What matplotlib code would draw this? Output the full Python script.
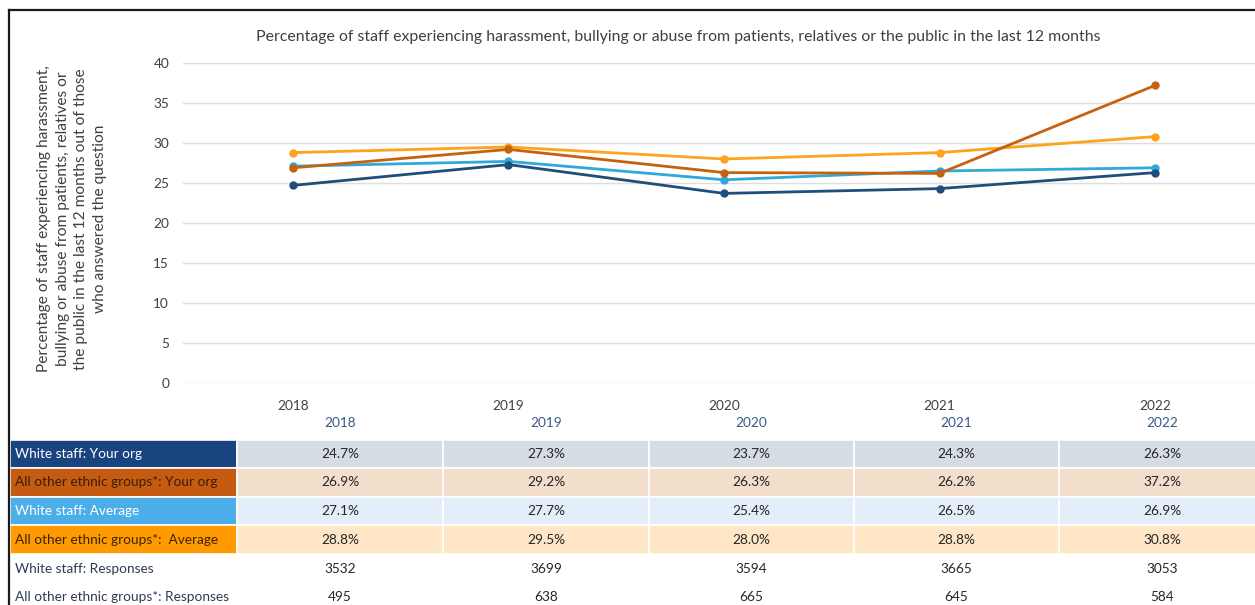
import matplotlib
matplotlib.use("Agg")
import matplotlib.pyplot as plt
from matplotlib.patches import Rectangle
from matplotlib.lines import Line2D

plt.rcParams['font.family'] = ['Lato', 'DejaVu Sans']

years = ["2018", "2019", "2020", "2021", "2022"]

white_org = [24.7, 27.3, 23.7, 24.3, 26.3]
other_org = [26.9, 29.2, 26.3, 26.2, 37.2]
white_avg = [27.1, 27.7, 25.4, 26.5, 26.9]
other_avg = [28.8, 29.5, 28.0, 28.8, 30.8]
white_resp = [3532, 3699, 3594, 3665, 3053]
other_resp = [495, 638, 665, 645, 584]

series_labels = [
    "White staff: Your org",
    "All other ethnic groups*: Your org",
    "White staff: Average",
    "All other ethnic groups*:  Average",
]
response_labels = [
    "White staff: Responses",
    "All other ethnic groups*: Responses",
]

title = ("Percentage of staff experiencing harassment, bullying or abuse from "
         "patients, relatives or the public in the last 12 months")
ylabel = ("Percentage of staff experiencing harassment,\n"
          "bullying or abuse from patients, relatives or\n"
          "the public in the last 12 months out of those\n"
          "who answered the question")

c_white_org = "#1F4E79"
c_other_org = "#C5620F"
c_white_avg = "#2EA9D9"
c_other_avg = "#FFA21C"

W, H = 1255, 605
fig = plt.figure(figsize=(W / 100, H / 100), dpi=100)


def fx(px):
    return px / W


def fy(py):
    return 1 - py / H


# frame around the whole chart
fig.add_artist(Line2D([fx(9), fx(W)], [fy(10), fy(10)], color="#1a1a1a", lw=1.6))
fig.add_artist(Line2D([fx(9), fx(9)], [fy(10), fy(H)], color="#1a1a1a", lw=1.6))

# line chart
ax_left, ax_right = 183, 1255
ax_top, ax_bot = 63, 383
ax = fig.add_axes([fx(ax_left), fy(ax_bot), fx(ax_right - ax_left),
                   (ax_bot - ax_top) / H])
x = list(range(len(years)))
step = 215.6
ax.set_xlim(-(293 - ax_left) / step, 4 + (ax_right - 1155) / step)
ax.set_ylim(0, 40)
ax.set_yticks(range(0, 41, 5))
ax.set_xticks(x)
ax.set_xticklabels(years)
ax.grid(axis="y", color="#DEDEDE", lw=1.0)
ax.set_axisbelow(True)
for s in ax.spines.values():
    s.set_visible(False)
ax.tick_params(axis="both", length=0, labelsize=9.8, colors="#404040")
ax.tick_params(axis="y", pad=10)
ax.tick_params(axis="x", pad=12)

for vals, col in [(white_avg, c_white_avg), (other_avg, c_other_avg),
                  (white_org, c_white_org), (other_org, c_other_org)]:
    ax.plot(x, vals, color=col, lw=2.0, marker="o", ms=5, zorder=3)

fig.text(fx(678), fy(37), title, ha="center", va="center", fontsize=11.4,
         color="#404040")
fig.text(fx(72), fy(219), ylabel, ha="center", va="center", rotation=90,
         fontsize=11.2, color="#404040", linespacing=1.4)

# data table below the chart
col_edges = [237, 443, 649, 854, 1059, 1265]
col_centers = [(a + b) / 2 for a, b in zip(col_edges[:-1], col_edges[1:])]
row_edges = [440, 468, 497, 525, 554, 583, 612]
fs = 9.8

for cx, yr in zip(col_centers, years):
    fig.text(fx(cx), fy(423), yr, ha="center", va="center", fontsize=fs,
             color="#3A5A86")

row_styles = [
    (white_org, "#1A4480", "#FFFFFF", "#D5DCE4"),
    (other_org, "#C55A11", "#3A1E08", "#F3DDCB"),
    (white_avg, "#4BAEE8", "#FFFFFF", "#E2EEF9"),
    (other_avg, "#FF9A00", "#3A2400", "#FEE6C7"),
]

for i, (label, (vals, lab_bg, lab_fg, cell_bg)) in enumerate(zip(series_labels, row_styles)):
    y0, y1 = row_edges[i], row_edges[i + 1]
    yc = (y0 + y1) / 2
    fig.add_artist(Rectangle((fx(10), fy(y1)), fx(237 - 10), (y1 - y0) / H,
                             facecolor=lab_bg, edgecolor="white", lw=1.2))
    fig.text(fx(15), fy(yc), label, ha="left", va="center", fontsize=fs,
             color=lab_fg)
    for j, v in enumerate(vals):
        a, b = col_edges[j], col_edges[j + 1]
        fig.add_artist(Rectangle((fx(a), fy(y1)), fx(b - a), (y1 - y0) / H,
                                 facecolor=cell_bg, edgecolor="white", lw=1.2))
        fig.text(fx(col_centers[j]), fy(yc), f"{v:.1f}%", ha="center",
                 va="center", fontsize=fs, color="#262626")

for k, (label, vals) in enumerate(zip(response_labels, [white_resp, other_resp])):
    yc = 569 + 28 * k
    fig.text(fx(15), fy(yc), label, ha="left", va="center", fontsize=fs,
             color="#2E3B55")
    for j, v in enumerate(vals):
        fig.text(fx(col_centers[j]), fy(yc), str(v), ha="center", va="center",
                 fontsize=fs, color="#262626")

fig.savefig("out.png", dpi=100)
